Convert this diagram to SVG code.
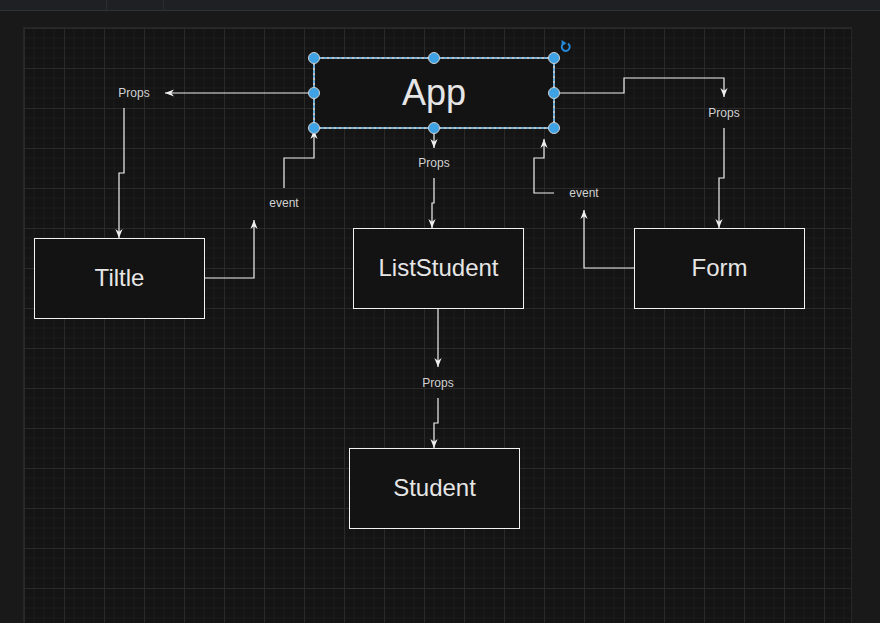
<svg xmlns="http://www.w3.org/2000/svg" width="880" height="623" viewBox="0 0 880 623">
<style>
.box{fill:#131313;stroke:#f2f2f2;stroke-width:1}
.ttl{font-family:"Liberation Sans",Arial,sans-serif;font-size:24px;fill:#e6e6e6;text-anchor:middle}
.lbl{font-family:"Liberation Sans",Arial,sans-serif;font-size:12px;fill:#d2d2d2;text-anchor:middle}
.edge{fill:none;stroke:#f0f0f0;stroke-width:1.2}
.arr{marker-end:url(#ah)}
.hdl{fill:#3ea2e4;stroke:#cfcfcf;stroke-width:1}
</style>
<defs>
<marker id="ah" viewBox="0 0 10 10" refX="10" refY="5" markerWidth="9" markerHeight="9" markerUnits="userSpaceOnUse" orient="auto">
<path d="M0,1 L10,5 L0,9 L3,5 z" fill="#f0f0f0"/>
</marker>
<pattern id="grid" x="24" y="28" width="40" height="40" patternUnits="userSpaceOnUse">
<rect width="40" height="40" fill="#141414"/>
<path d="M10,0V40M20,0V40M30,0V40M0,10H40M0,20H40M0,30H40" stroke="#1c1c1c" stroke-width="1"/>
<path d="M0.5,0V40M0,0.5H40" stroke="#2a2a2a" stroke-width="1"/>
</pattern>
</defs>
<rect width="880" height="623" fill="#191919"/>
<rect width="880" height="10" fill="#1f2023"/>
<line x1="0" y1="10.5" x2="880" y2="10.5" stroke="#313235"/>
<line x1="106.5" y1="0" x2="106.5" y2="10" stroke="#2c2d30"/>
<line x1="163.5" y1="0" x2="163.5" y2="10" stroke="#2c2d30"/>
<rect x="23.5" y="27.5" width="828" height="600" fill="url(#grid)" stroke="#262626"/>

<g id="connectors">
<path class="edge arr" d="M314,93 H165"/>
<path class="edge arr" d="M124,108 V173 H119 V238"/>
<path class="edge arr" d="M204,278 H254 V220"/>
<path class="edge arr" d="M284,188 V158 H314 V130"/>
<path class="edge arr" d="M434,128 V148"/>
<path class="edge arr" d="M434,178 V203 H432 V228"/>
<path class="edge arr" d="M438,308 V367"/>
<path class="edge arr" d="M438,398 V423 H434 V448"/>
<path class="edge arr" d="M554,93 H624 V78 H724 V97"/>
<path class="edge arr" d="M724,128 V178 H719 V228"/>
<path class="edge arr" d="M634,268 H584 V210"/>
<path class="edge arr" d="M554,193 H534 V158 H544 V139"/>
<text class="lbl" x="134" y="97">Props</text>
<text class="lbl" x="434" y="167">Props</text>
<text class="lbl" x="724" y="117">Props</text>
<text class="lbl" x="438" y="387">Props</text>
<text class="lbl" x="284" y="207">event</text>
<text class="lbl" x="584" y="197">event</text>
</g>

<g id="node-app">
<rect class="box" x="314" y="58" width="240" height="70"/>
<text class="ttl" x="434" y="105" style="font-size:36px">App</text>
<rect x="314" y="58" width="240" height="70" fill="none" stroke="#ffffff" stroke-width="1"/>
<rect x="314" y="58" width="240" height="70" fill="none" stroke="#2a9de6" stroke-width="1.2" stroke-dasharray="3 2"/>
<circle class="hdl" cx="314" cy="58" r="5.5"/>
<circle class="hdl" cx="434" cy="58" r="5.5"/>
<circle class="hdl" cx="554" cy="58" r="5.5"/>
<circle class="hdl" cx="314" cy="93" r="5.5"/>
<circle class="hdl" cx="554" cy="93" r="5.5"/>
<circle class="hdl" cx="314" cy="128" r="5.5"/>
<circle class="hdl" cx="434" cy="128" r="5.5"/>
<circle class="hdl" cx="554" cy="128" r="5.5"/>
<path d="M568,43.6 A4,4 0 1 1 563.8,43.4" fill="none" stroke="#2388d8" stroke-width="2"/>
<path d="M561.5,40 L566.5,43.3 L561.8,46 z" fill="#2388d8"/>
</g>

<g id="node-tiltle">
<rect class="box" x="34.5" y="238.5" width="170" height="80"/>
<text class="ttl" x="119.5" y="286">Tiltle</text>
</g>

<g id="node-liststudent">
<rect class="box" x="353.5" y="228.5" width="170" height="80"/>
<text class="ttl" x="438.5" y="276">ListStudent</text>
</g>

<g id="node-form">
<rect class="box" x="634.5" y="228.5" width="170" height="80"/>
<text class="ttl" x="719.5" y="276">Form</text>
</g>

<g id="node-student">
<rect class="box" x="349.5" y="448.5" width="170" height="80"/>
<text class="ttl" x="434.5" y="496">Student</text>
</g>
</svg>
